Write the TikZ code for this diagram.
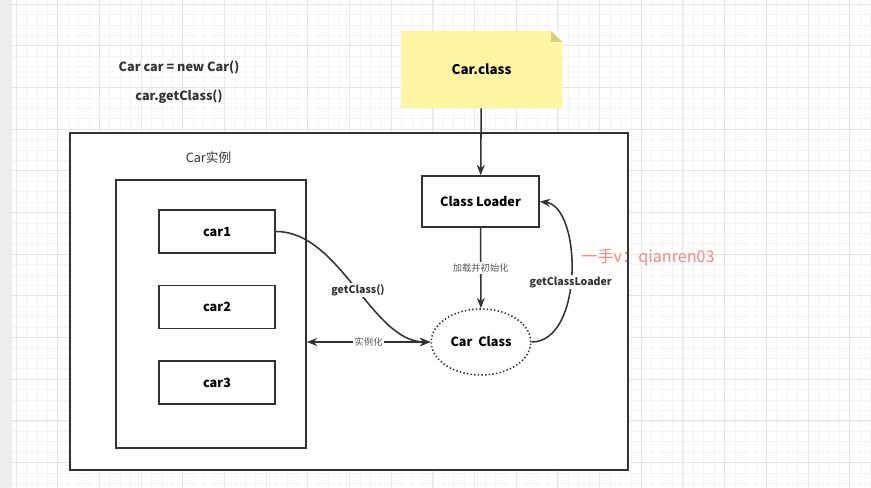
\documentclass[tikz,border=0pt]{standalone}
\usepackage{fontspec}
\setmainfont{Noto Sans CJK SC}
\usepackage{xcolor}
\usetikzlibrary{shapes.geometric, arrows.meta, positioning}
\definecolor{linegray}{HTML}{333333}
\definecolor{notefill}{HTML}{FFF5A3}
\definecolor{notefold}{HTML}{D8CF82}
\definecolor{gridminor}{HTML}{F3F3F3}
\definecolor{gridmajor}{HTML}{E7E7E7}
\definecolor{markred}{HTML}{F28B82}
\tikzset{
    container/.style={rectangle, draw=linegray, line width=1.1pt, fill=white},
    carbox/.style={rectangle, draw=linegray, line width=1.1pt, fill=white, minimum width=2.9cm, minimum height=1.075cm, font=\bfseries\fontsize{9}{11}\selectfont},
    loaderbox/.style={rectangle, draw=linegray, line width=1.1pt, fill=white, minimum width=2.925cm, minimum height=1.275cm, font=\bfseries\fontsize{9}{11}\selectfont},
    classnode/.style={ellipse, draw=linegray, line width=1.1pt, dash pattern=on 1pt off 1.6pt, fill=white, minimum width=2.35cm, minimum height=1.65cm, font=\bfseries\fontsize{9}{11}\selectfont},
    notebox/.style={rectangle, fill=white, minimum width=4.025cm, minimum height=1.925cm, font=\bfseries\fontsize{9.5}{11}\selectfont,
        path picture={
            \fill[notefill] (path picture bounding box.south west) -- (path picture bounding box.north west) -- ([xshift=-0.27cm]path picture bounding box.north east) -- ([yshift=-0.27cm]path picture bounding box.north east) -- (path picture bounding box.south east) -- cycle;
            \fill[notefold] ([xshift=-0.27cm]path picture bounding box.north east) -- ([yshift=-0.27cm]path picture bounding box.north east) -- ([xshift=-0.27cm, yshift=-0.27cm]path picture bounding box.north east) -- cycle;
        }},
    codetext/.style={font=\bfseries\fontsize{9}{11}\selectfont, text=linegray},
    plaintext/.style={font=\fontsize{9}{11}\selectfont, text=linegray},
    edgelabel/.style={fill=white, inner sep=1pt, text=linegray, font=\bfseries\fontsize{7.5}{9}\selectfont},
    smalllabel/.style={fill=white, inner sep=1pt, text=black!65, font=\fontsize{6.6}{8}\selectfont},
    arrow/.style={-{Stealth[length=2.6mm, width=2mm]}, line width=1.1pt, draw=linegray},
    twoway/.style={{Stealth[length=2.6mm, width=2mm]}-{Stealth[length=2.6mm, width=2mm]}, line width=1.1pt, draw=linegray}
}

\begin{document}
\begin{tikzpicture}[x=0.025cm, y=-0.025cm]
    \useasboundingbox (0,0) rectangle (871,488);
    \fill[white] (0,0) rectangle (871,488);
    \foreach \i in {0,...,86} {
        \pgfmathsetmacro\gx{16+(\i-2)*10.42}
        \draw[gridminor, line width=0.4pt] (\gx,0) -- (\gx,488);
    }
    \foreach \j in {0,...,46} {
        \pgfmathsetmacro\gy{4+\j*10.42}
        \draw[gridminor, line width=0.4pt] (0,\gy) -- (871,\gy);
    }
    \foreach \k in {0,...,20} {
        \pgfmathsetmacro\gx{16+\k*41.68}
        \draw[gridmajor, line width=0.6pt] (\gx,0) -- (\gx,488);
    }
    \foreach \k in {0,...,11} {
        \pgfmathsetmacro\gy{4+\k*41.68}
        \draw[gridmajor, line width=0.6pt] (0,\gy) -- (871,\gy);
    }
    \fill[black!7] (0,0) rectangle (12,488);

    \node (newcar) [codetext] at (179,67) {Car car = new Car()};
    \node (getcls) [codetext] at (179,97) {car.getClass()};
    \node (carclass) [notebox] at (481.5,69.5) {Car.class};

    \node (frame) [container, minimum width=13.95cm, minimum height=8.425cm] at (349,301.5) {};
    \node (title) [plaintext] at (208.5,158) {Car实例};
    \node (instances) [container, minimum width=4.75cm, minimum height=6.7cm] at (211,314) {};
    \node (car1) [carbox] at (217,231.5) {car1};
    \node (car2) [carbox, below=0.775cm of car1] {car2};
    \node (car3) [carbox, below=0.775cm of car2] {car3};

    \node (loader) [loaderbox] at (480.5,201.5) {Class Loader};
    \node (carcls) [classnode] at (481,342) {Car\ \ Class};

    \draw[arrow] (carclass) -- (loader);
    \draw[arrow] (loader) -- node[smalllabel] {加载并初始化} (carcls);
    \draw[arrow] (car1.east) .. controls (340,231) and (372,342) .. node[edgelabel, pos=0.52] {getClass()} (carcls.west);
    \draw[arrow] (carcls.east) .. controls (584,342) and (582,207) .. node[edgelabel, pos=0.46] {getClassLoader} (loader.east);
    \draw[twoway] (carcls.west -| instances.east) -- node[smalllabel] {实例化} (carcls.west);

    \node (mark) [text=markred, font=\fontsize{11.5}{13}\selectfont] at (648,258) {一手v：qianren03};
\end{tikzpicture}
\end{document}
